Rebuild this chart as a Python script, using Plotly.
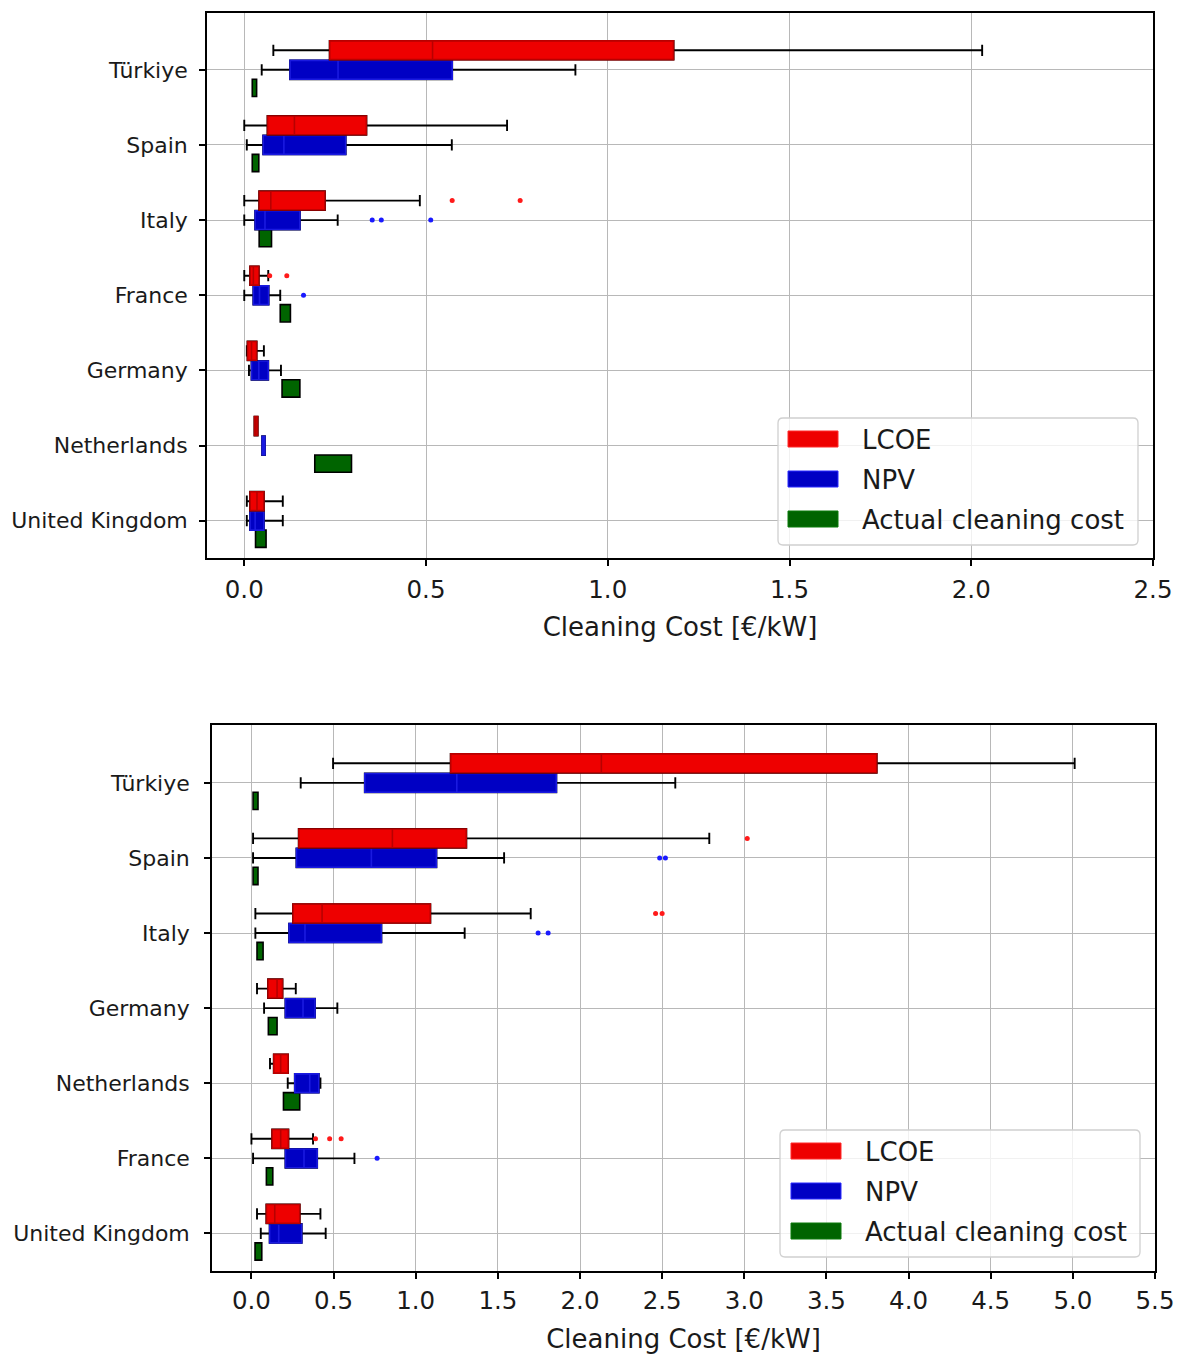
import plotly.graph_objects as go

W, H = 1177, 1354
FONT = "DejaVu Sans"

# ---------------- upper panel ----------------
top_countries = ["Türkiye", "Spain", "Italy", "France", "Germany", "Netherlands", "United Kingdom"]

top_lcoe_low = [0.080, 0.000, 0.000, 0.000, 0.007, 0.028, 0.007]
top_lcoe_q1 = [0.235, 0.064, 0.041, 0.016, 0.009, 0.028, 0.016]
top_lcoe_med = [0.518, 0.138, 0.073, 0.025, 0.020, 0.032, 0.035]
top_lcoe_q3 = [1.181, 0.336, 0.222, 0.040, 0.034, 0.037, 0.054]
top_lcoe_high = [2.030, 0.723, 0.483, 0.066, 0.054, 0.037, 0.106]

top_npv_low = [0.048, 0.007, 0.000, 0.000, 0.013, 0.049, 0.007]
top_npv_q1 = [0.126, 0.052, 0.030, 0.025, 0.020, 0.049, 0.016]
top_npv_med = [0.258, 0.109, 0.057, 0.042, 0.040, 0.053, 0.030]
top_npv_q3 = [0.572, 0.279, 0.153, 0.067, 0.066, 0.057, 0.054]
top_npv_high = [0.911, 0.571, 0.257, 0.099, 0.101, 0.057, 0.106]

top_actual_low = [0.022, 0.022, 0.041, 0.099, 0.104, 0.194, 0.031]
top_actual_high = [0.034, 0.040, 0.075, 0.127, 0.153, 0.295, 0.060]

top_lcoe_out_country = ["Italy", "Italy", "France", "France"]
top_lcoe_out_value = [0.572, 0.759, 0.070, 0.117]
top_npv_out_country = ["Italy", "Italy", "Italy", "France"]
top_npv_out_value = [0.352, 0.377, 0.513, 0.163]

# ---------------- lower panel ----------------
bot_countries = ["Türkiye", "Spain", "Italy", "Germany", "Netherlands", "France", "United Kingdom"]

bot_lcoe_low = [0.497, 0.010, 0.024, 0.034, 0.113, 0.000, 0.034]
bot_lcoe_q1 = [1.213, 0.288, 0.253, 0.101, 0.136, 0.126, 0.091]
bot_lcoe_med = [2.130, 0.858, 0.430, 0.156, 0.178, 0.178, 0.142]
bot_lcoe_q3 = [3.806, 1.308, 1.089, 0.189, 0.223, 0.225, 0.294]
bot_lcoe_high = [5.011, 2.787, 1.700, 0.270, 0.223, 0.375, 0.420]

bot_npv_low = [0.300, 0.010, 0.024, 0.077, 0.221, 0.010, 0.057]
bot_npv_q1 = [0.690, 0.274, 0.229, 0.207, 0.264, 0.207, 0.111]
bot_npv_med = [1.250, 0.730, 0.326, 0.314, 0.355, 0.320, 0.166]
bot_npv_q3 = [1.856, 1.126, 0.791, 0.387, 0.410, 0.400, 0.306]
bot_npv_high = [2.580, 1.538, 1.298, 0.523, 0.420, 0.627, 0.452]

bot_actual_low = [0.010, 0.010, 0.034, 0.103, 0.195, 0.091, 0.022]
bot_actual_high = [0.040, 0.040, 0.071, 0.156, 0.294, 0.130, 0.063]

bot_lcoe_out_country = ["Spain", "Italy", "Italy", "France", "France", "France"]
bot_lcoe_out_value = [3.018, 2.460, 2.500, 0.390, 0.476, 0.546]
bot_npv_out_country = ["Spain", "Spain", "Italy", "Italy", "France"]
bot_npv_out_value = [2.485, 2.520, 1.745, 1.806, 0.765]

legend_labels = ["LCOE", "NPV", "Actual cleaning cost"]

# ---------------- styling ----------------
RED_FILL, RED_EDGE, RED_DOT = "#ee0000", "#b80000", "#ff1a1a"
BLUE_FILL, BLUE_EDGE, BLUE_DOT = "#0000c4", "#1a1ae0", "#1a1aff"
GREEN_FILL = "#006400"
GRID = "#b8b8b8"
TEXT = "#1a1a1a"

BOX_H = 0.25        # height of LCOE / NPV boxes (data units)
GREEN_H = 0.23      # height of the actual-cost boxes
OFF_LCOE, OFF_NPV, OFF_ACT = 0.26, 0.0, -0.24

fig = go.Figure()


def add_boxes(xa, ya, pos, low, q1, med, q3, high, fill, edge, offset):
    y = [p + offset for p in pos]
    # black whiskers with caps
    fig.add_trace(go.Box(
        orientation="h", y=y, q1=q1, median=med, q3=q3,
        lowerfence=low, upperfence=high, width=BOX_H, whiskerwidth=0.6,
        fillcolor="rgba(0,0,0,0)", line=dict(color="black", width=1.9),
        boxpoints=False, xaxis=xa, yaxis=ya, showlegend=False, hoverinfo="skip"))
    # coloured box body with its median on top
    fig.add_trace(go.Box(
        orientation="h", y=y, q1=q1, median=med, q3=q3,
        lowerfence=q1, upperfence=q3, width=BOX_H, whiskerwidth=0,
        fillcolor=fill, line=dict(color=edge, width=1.6),
        boxpoints=False, xaxis=xa, yaxis=ya, showlegend=False, hoverinfo="skip"))


def add_outliers(xa, ya, posmap, countries, values, color, offset):
    fig.add_trace(go.Scatter(
        x=values, y=[posmap[c] + offset for c in countries], mode="markers",
        marker=dict(color=color, size=5, line=dict(width=0)),
        xaxis=xa, yaxis=ya, showlegend=False, hoverinfo="skip"))


def add_actual(xa, ya, pos, low, high):
    fig.add_trace(go.Bar(
        orientation="h", y=[p + OFF_ACT for p in pos],
        x=[h - l for l, h in zip(low, high)], base=low, width=GREEN_H,
        marker=dict(color=GREEN_FILL, line=dict(color="black", width=1.6)),
        xaxis=xa, yaxis=ya, showlegend=False, hoverinfo="skip"))


def panel(xa, ya, countries, lcoe, npv, act, lcoe_out, npv_out):
    n = len(countries)
    posmap = {c: n - 1 - i for i, c in enumerate(countries)}
    pos = [posmap[c] for c in countries]
    add_actual(xa, ya, pos, *act)
    add_boxes(xa, ya, pos, *npv, BLUE_FILL, BLUE_EDGE, OFF_NPV)
    add_boxes(xa, ya, pos, *lcoe, RED_FILL, RED_EDGE, OFF_LCOE)
    add_outliers(xa, ya, posmap, *lcoe_out, RED_DOT, OFF_LCOE)
    add_outliers(xa, ya, posmap, *npv_out, BLUE_DOT, OFF_NPV)
    return pos


top_pos = panel("x", "y", top_countries,
                (top_lcoe_low, top_lcoe_q1, top_lcoe_med, top_lcoe_q3, top_lcoe_high),
                (top_npv_low, top_npv_q1, top_npv_med, top_npv_q3, top_npv_high),
                (top_actual_low, top_actual_high),
                (top_lcoe_out_country, top_lcoe_out_value),
                (top_npv_out_country, top_npv_out_value))

bot_pos = panel("x2", "y2", bot_countries,
                (bot_lcoe_low, bot_lcoe_q1, bot_lcoe_med, bot_lcoe_q3, bot_lcoe_high),
                (bot_npv_low, bot_npv_q1, bot_npv_med, bot_npv_q3, bot_npv_high),
                (bot_actual_low, bot_actual_high),
                (bot_lcoe_out_country, bot_lcoe_out_value),
                (bot_npv_out_country, bot_npv_out_value))


def px_x(x):
    return x / W


def px_y(y):
    return 1 - y / H


common_axis = dict(
    showgrid=True, gridcolor=GRID, gridwidth=1.2, zeroline=False,
    showline=True, mirror=True, linecolor="black", linewidth=1.6,
    ticks="outside", ticklen=6, tickwidth=1.5, tickcolor="black",
    automargin=False,
)

xtitle = dict(text="Cleaning Cost [€/kW]", font=dict(family=FONT, size=26, color=TEXT), standoff=15)

fig.update_layout(
    width=W, height=H,
    margin=dict(l=0, r=0, t=0, b=0),
    paper_bgcolor="white", plot_bgcolor="white",
    font=dict(family=FONT, color=TEXT),
    barmode="overlay", boxmode="overlay",
    showlegend=False,
    xaxis=dict(common_axis, domain=[px_x(207), px_x(1153)], anchor="y",
               range=[-0.1025, 2.5], tick0=0, dtick=0.5, tickformat=".1f",
               tickfont=dict(family=FONT, size=24.5, color=TEXT),
               ticklabelstandoff=2, title=xtitle),
    yaxis=dict(common_axis, domain=[px_y(558.3), px_y(12.7)], anchor="x",
               range=[-0.5, 6.76], tickvals=top_pos, ticktext=top_countries,
               tickfont=dict(family=FONT, size=22, color=TEXT),
               ticklabelstandoff=7),
    xaxis2=dict(common_axis, domain=[px_x(212), px_x(1155)], anchor="y2",
                range=[-0.24, 5.5], tick0=0, dtick=0.5, tickformat=".1f",
                tickfont=dict(family=FONT, size=24.5, color=TEXT),
                ticklabelstandoff=1, title=dict(xtitle, standoff=17)),
    yaxis2=dict(common_axis, domain=[px_y(1271), px_y(725)], anchor="x2",
                range=[-0.5, 6.77], tickvals=bot_pos, ticktext=bot_countries,
                tickfont=dict(family=FONT, size=22, color=TEXT),
                ticklabelstandoff=10),
)


# ---------------- legends (drawn in page pixels) ----------------
def rounded_rect(x0, y0, x1, y1, r):
    pts = [
        ("M", [(x0 + r, y0)]), ("L", [(x1 - r, y0)]), ("Q", [(x1, y0), (x1, y0 + r)]),
        ("L", [(x1, y1 - r)]), ("Q", [(x1, y1), (x1 - r, y1)]),
        ("L", [(x0 + r, y1)]), ("Q", [(x0, y1), (x0, y1 - r)]),
        ("L", [(x0, y0 + r)]), ("Q", [(x0, y0), (x0 + r, y0)]),
    ]
    out = []
    for cmd, coords in pts:
        out.append(cmd + " " + " ".join(f"{px_x(a):.5f},{px_y(b):.5f}" for a, b in coords))
    return " ".join(out) + " Z"


def draw_legend(bx0, by0, bx1, by1, patch_x0, patch_y0, text_x):
    fig.add_shape(type="path", path=rounded_rect(bx0, by0, bx1, by1, 5),
                  xref="paper", yref="paper", layer="above",
                  fillcolor="rgba(255,255,255,0.8)", line=dict(color="#d0d0d0", width=1.3))
    fills = [RED_FILL, BLUE_FILL, GREEN_FILL]
    edges = ["#ff2a2a", "#2a2aff", "#0a7a0a"]
    for i, (lab, fc, ec) in enumerate(zip(legend_labels, fills, edges)):
        y0 = patch_y0 + i * 40
        fig.add_shape(type="rect", xref="paper", yref="paper", layer="above",
                      x0=px_x(patch_x0), x1=px_x(patch_x0 + 50),
                      y0=px_y(y0), y1=px_y(y0 + 16),
                      fillcolor=fc, line=dict(color=ec, width=1))
        fig.add_annotation(x=px_x(text_x), y=px_y(y0 + 9), xref="paper", yref="paper",
                           text=lab, showarrow=False, xanchor="left", yanchor="middle",
                           font=dict(family=FONT, size=26, color=TEXT))


draw_legend(778, 418, 1138, 545, 788, 431, 860)
draw_legend(780, 1130, 1140, 1257, 791, 1143, 863)

fig.write_html("out.html")
